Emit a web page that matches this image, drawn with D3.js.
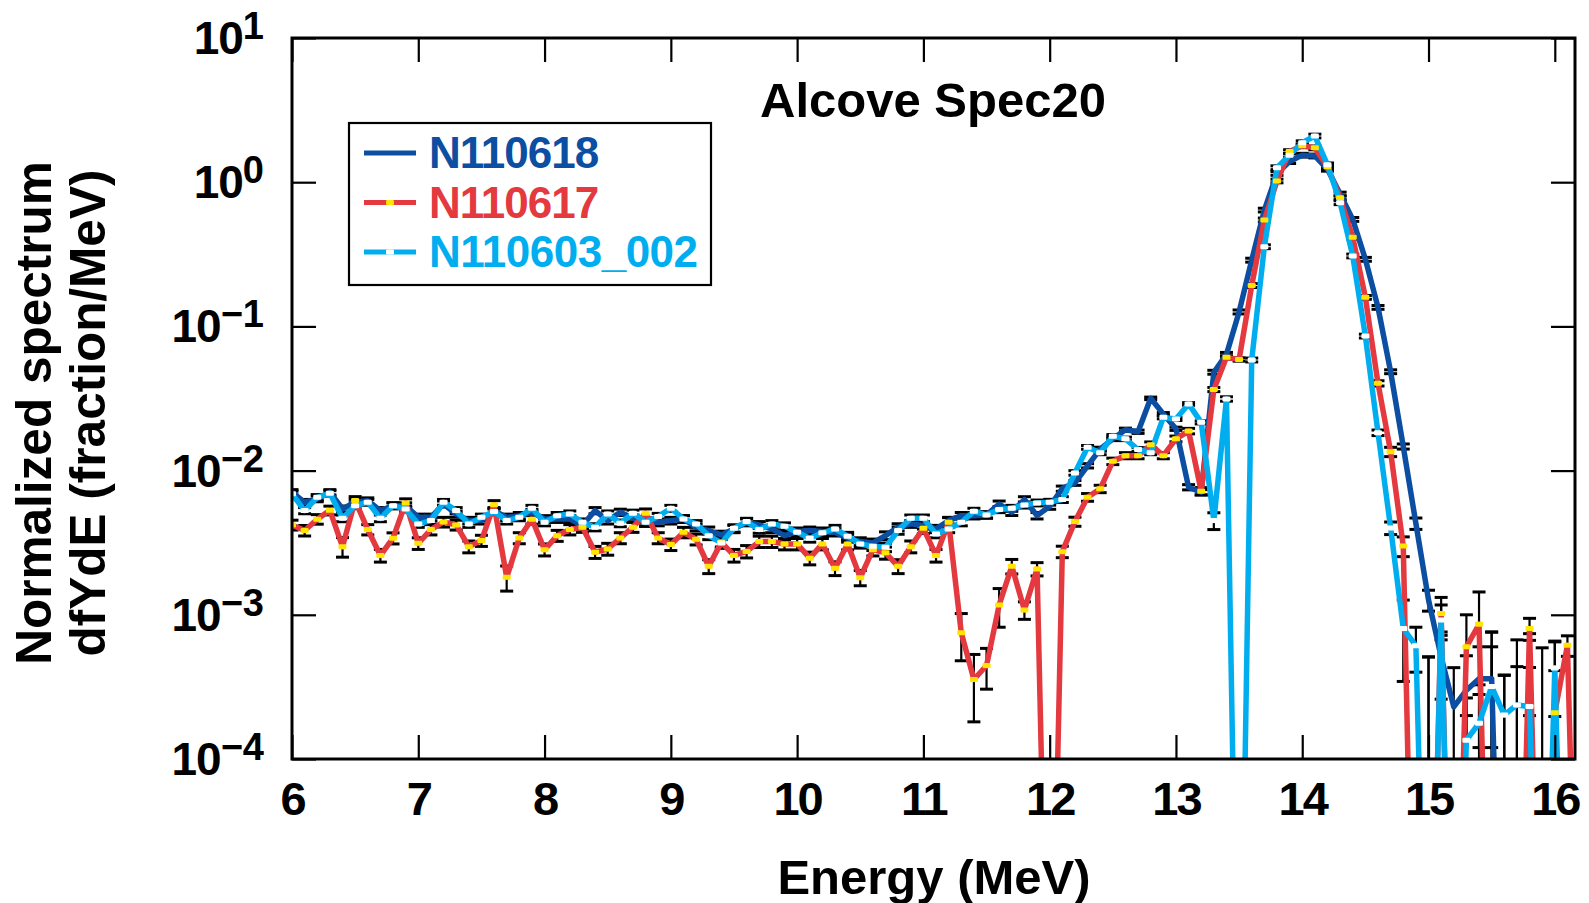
<!DOCTYPE html>
<html>
<head>
<meta charset="utf-8">
<script src="https://cdn.jsdelivr.net/npm/d3@7"></script>
<style>
  body { margin: 0; background: #fff; }
  svg { display: block; font-family: "Liberation Sans", Arial, Helvetica, sans-serif; font-weight: bold; }
</style>
</head>
<body>
<svg id="chart" width="1589" height="903"></svg>
<script>
// Energy bins (MeV)
const energy = [
  6.0, 6.1, 6.2, 6.3, 6.4, 6.5, 6.6, 6.7, 6.8, 6.9,
  7.0, 7.1, 7.2, 7.3, 7.4, 7.5, 7.6, 7.7, 7.8, 7.9,
  8.0, 8.1, 8.2, 8.3, 8.4, 8.5, 8.6, 8.7, 8.8, 8.9,
  9.0, 9.1, 9.2, 9.3, 9.4, 9.5, 9.6, 9.7, 9.8, 9.9,
  10.0, 10.1, 10.2, 10.3, 10.4, 10.5, 10.6, 10.7, 10.8, 10.9,
  11.0, 11.1, 11.2, 11.3, 11.4, 11.5, 11.6, 11.7, 11.8, 11.9,
  12.0, 12.1, 12.2, 12.3, 12.4, 12.5, 12.6, 12.7, 12.8, 12.9,
  13.0, 13.1, 13.2, 13.3, 13.4, 13.5, 13.6, 13.7, 13.8, 13.9,
  14.0, 14.1, 14.2, 14.3, 14.4, 14.5, 14.6, 14.7, 14.8, 14.9,
  15.0, 15.1, 15.2, 15.3, 15.4, 15.5, 15.6, 15.7, 15.8, 15.9,
  16.0, 16.1, 16.2
];

// N110618 (dark blue)
const n110618 = [
  7.08e-3, 6.03e-3, 6.37e-3, 7.08e-3, 5.42e-3, 6.03e-3, 6.19e-3, 5.28e-3, 5.71e-3, 5.71e-3,
  4.74e-3, 4.74e-3, 5.87e-3, 5.0e-3, 4.5e-3, 4.5e-3, 5.28e-3, 4.74e-3, 4.87e-3, 5.13e-3,
  4.62e-3, 4.62e-3, 4.62e-3, 4.16e-3, 5.28e-3, 4.5e-3, 5.14e-3, 4.67e-3, 4.34e-3, 4.38e-3,
  4.5e-3, 4.62e-3, 4.05e-3, 3.84e-3, 3.58e-3, 3.94e-3, 4.38e-3, 4.2e-3, 3.94e-3, 3.54e-3,
  3.78e-3, 3.84e-3, 3.78e-3, 3.74e-3, 3.4e-3, 3.22e-3, 3.15e-3, 3.54e-3, 4.05e-3, 4.27e-3,
  4.16e-3, 3.94e-3, 4.5e-3, 4.87e-3, 4.87e-3, 4.93e-3, 5.87e-3, 5.14e-3, 6.3e-3, 4.87e-3,
  5.66e-3, 7.5e-3, 8.22e-3, 1.08e-2, 1.41e-2, 1.66e-2, 1.92e-2, 1.86e-2, 3.17e-2, 2.47e-2,
  1.95e-2, 7.67e-3, 7.08e-3, 4.81e-2, 6.4e-2, 0.126, 0.288, 0.641, 1.15, 1.39,
  1.54, 1.52, 1.23, 0.828, 0.552, 0.292, 0.1355, 4.85e-2, 1.47e-2, 4.3e-3,
  1.27e-3, 5.1e-4, 2.3e-4, 3.0e-4, 3.6e-4, 3.6e-4, 3e-7, 3e-7, 4.7e-4, 3e-7,
  2.1e-4, 3e-7, 3e-7
];
const errN110618 = [
  3.0e-4, 2.8e-4, 2.9e-4, 3.0e-4, 2.6e-4, 2.8e-4, 2.8e-4, 2.6e-4, 2.7e-4, 2.7e-4,
  2.5e-4, 2.5e-4, 2.8e-4, 2.5e-4, 2.4e-4, 2.4e-4, 2.6e-4, 2.5e-4, 2.5e-4, 2.6e-4,
  2.5e-4, 2.5e-4, 2.5e-4, 2.3e-4, 2.6e-4, 2.4e-4, 2.6e-4, 2.5e-4, 2.4e-4, 2.4e-4,
  2.4e-4, 2.5e-4, 2.3e-4, 2.2e-4, 2.2e-4, 2.3e-4, 2.4e-4, 2.3e-4, 2.3e-4, 2.2e-4,
  2.2e-4, 2.2e-4, 2.2e-4, 2.2e-4, 2.1e-4, 2.0e-4, 2.0e-4, 2.2e-4, 2.3e-4, 2.3e-4,
  2.3e-4, 2.3e-4, 2.4e-4, 2.5e-4, 2.5e-4, 2.5e-4, 2.8e-4, 2.6e-4, 2.9e-4, 2.5e-4,
  2.7e-4, 3.1e-4, 3.2e-4, 3.7e-4, 4.3e-4, 4.6e-4, 5.0e-4, 4.9e-4, 6.4e-4, 5.6e-4,
  5.0e-4, 3.2e-4, 3.0e-4, 1.5e-3, 2.0e-3, 4.0e-3, 9.0e-3, 0.019, 0.034, 0.042,
  0.046, 0.046, 0.037, 0.025, 0.017, 9.0e-3, 4.1e-3, 1.5e-3, 6.0e-4, 3.9e-4,
  2.1e-4, 2.5e-4, 2.0e-4, 2.2e-4, 2.4e-4, 2.4e-4, 3.8e-4, 0, 2.7e-4, 0,
  2.0e-4, 0, 0
];

// N110617 (red)
const n110617 = [
  4.2e-3, 3.84e-3, 4.6e-3, 5.3e-3, 2.97e-3, 6.2e-3, 3.9e-3, 2.58e-3, 3.4e-3, 5.97e-3,
  3.13e-3, 3.9e-3, 4.4e-3, 4.2e-3, 2.97e-3, 3.27e-3, 5.8e-3, 1.82e-3, 3.41e-3, 4.6e-3,
  2.83e-3, 3.54e-3, 3.9e-3, 4.05e-3, 2.72e-3, 2.86e-3, 3.41e-3, 4.05e-3, 5.06e-3, 3.41e-3,
  3.07e-3, 3.73e-3, 3.34e-3, 2.17e-3, 3.18e-3, 2.58e-3, 2.75e-3, 3.22e-3, 3.22e-3, 3.1e-3,
  3.1e-3, 2.47e-3, 3.1e-3, 2.1e-3, 3.1e-3, 1.81e-3, 2.83e-3, 2.69e-3, 2.17e-3, 2.97e-3,
  3.98e-3, 2.58e-3, 4.38e-3, 7.5e-4, 3.56e-4, 4.45e-4, 1.17e-3, 2.17e-3, 1.08e-3, 2.08e-3,
  3e-7, 2.74e-3, 4.43e-3, 6.53e-3, 7.47e-3, 1.16e-2, 1.27e-2, 1.27e-2, 1.51e-2, 1.27e-2,
  1.66e-2, 1.88e-2, 7.2e-3, 3.65e-2, 6.1e-2, 5.9e-2, 0.192, 0.547, 1.02, 1.63,
  1.79, 1.73, 1.28, 0.781, 0.415, 0.159, 4.03e-2, 1.35e-2, 3.0e-3, 3e-7,
  3e-7, 1.02e-3, 3e-7, 6.0e-4, 8.6e-4, 3e-7, 3e-7, 3e-7, 8.05e-4, 3e-7,
  2.09e-4, 6.15e-4, 3e-7
];
const errN110617 = [
  3.3e-4, 3.2e-4, 3.5e-4, 3.7e-4, 4.6e-4, 4.0e-4, 3.2e-4, 2.6e-4, 3.0e-4, 4.0e-4,
  2.9e-4, 3.2e-4, 3.4e-4, 3.3e-4, 2.8e-4, 2.9e-4, 3.9e-4, 3.6e-4, 3.0e-4, 3.5e-4,
  2.7e-4, 3.1e-4, 3.2e-4, 3.2e-4, 2.6e-4, 2.7e-4, 3.0e-4, 3.2e-4, 3.6e-4, 3.0e-4,
  2.8e-4, 3.1e-4, 2.9e-4, 2.4e-4, 2.9e-4, 2.6e-4, 2.7e-4, 2.9e-4, 2.9e-4, 2.8e-4,
  2.8e-4, 2.5e-4, 2.8e-4, 2.3e-4, 2.8e-4, 2.2e-4, 2.7e-4, 2.6e-4, 2.4e-4, 2.8e-4,
  3.2e-4, 2.6e-4, 3.4e-4, 2.7e-4, 1.75e-4, 1.4e-4, 3.5e-4, 2.5e-4, 1.5e-4, 2.2e-4,
  0, 2.5e-4, 3.2e-4, 4.0e-4, 4.4e-4, 6.0e-4, 6.2e-4, 6.2e-4, 7.0e-4, 6.2e-4,
  7.6e-4, 8.2e-4, 4.2e-4, 1.2e-3, 1.6e-3, 1.6e-3, 6.0e-3, 0.017, 0.03, 0.049,
  0.054, 0.052, 0.038, 0.023, 0.012, 4.8e-3, 1.7e-3, 1.0e-3, 4.7e-4, 0,
  5.1e-4, 3.0e-4, 0, 4.0e-4, 5.8e-4, 7.6e-4, 0, 6.7e-4, 1.4e-4, 0,
  4.4e-4, 1.0e-4, 0
];

// N110603_002 (cyan)
const n110603 = [
  6.9e-3, 5.28e-3, 6.53e-3, 6.96e-3, 4.67e-3, 5.71e-3, 6.03e-3, 4.67e-3, 5.71e-3, 5.42e-3,
  4.27e-3, 4.5e-3, 6.03e-3, 5.28e-3, 4.27e-3, 4.74e-3, 5.2e-3, 4.5e-3, 4.74e-3, 5.48e-3,
  4.38e-3, 4.87e-3, 5.0e-3, 4.38e-3, 4.05e-3, 5.0e-3, 4.31e-3, 5.06e-3, 4.38e-3, 4.8e-3,
  5.48e-3, 4.62e-3, 4.27e-3, 3.54e-3, 3.15e-3, 3.98e-3, 4.43e-3, 3.9e-3, 4.27e-3, 4.11e-3,
  3.74e-3, 3.4e-3, 3.7e-3, 3.94e-3, 3.51e-3, 3.1e-3, 2.99e-3, 2.94e-3, 3.84e-3, 4.67e-3,
  4.67e-3, 3.64e-3, 3.94e-3, 4.38e-3, 5.22e-3, 4.93e-3, 5.37e-3, 5.48e-3, 5.78e-3, 5.97e-3,
  6.04e-3, 6.3e-3, 9.64e-3, 1.45e-2, 1.33e-2, 1.73e-2, 1.66e-2, 1.4e-2, 1.33e-2, 2.34e-2,
  2.28e-2, 2.9e-2, 2.16e-2, 4.5e-3, 3.14e-2, 3e-7, 5.85e-2, 0.357, 1.26, 1.54,
  1.88, 2.09, 1.32, 0.721, 0.308, 8.57e-2, 1.83e-2, 4.0e-3, 8.05e-4, 6.1e-4,
  3e-7, 9.2e-4, 3e-7, 1.35e-4, 1.77e-4, 3.18e-4, 2.02e-4, 2.37e-4, 2.31e-4, 3e-7,
  4.27e-4, 3e-7, 3e-7
];
const errN110603 = [
  3.0e-4, 2.6e-4, 2.9e-4, 3.0e-4, 2.5e-4, 2.7e-4, 2.8e-4, 2.5e-4, 2.7e-4, 2.6e-4,
  2.3e-4, 2.4e-4, 2.8e-4, 2.6e-4, 2.3e-4, 2.5e-4, 2.6e-4, 2.4e-4, 2.5e-4, 2.6e-4,
  2.4e-4, 2.5e-4, 2.5e-4, 2.4e-4, 2.3e-4, 2.5e-4, 2.3e-4, 2.6e-4, 2.4e-4, 2.5e-4,
  2.6e-4, 2.5e-4, 2.3e-4, 2.2e-4, 2.0e-4, 2.3e-4, 2.4e-4, 2.2e-4, 2.3e-4, 2.3e-4,
  2.2e-4, 2.1e-4, 2.2e-4, 2.3e-4, 2.2e-4, 2.0e-4, 2.0e-4, 2.0e-4, 2.2e-4, 2.5e-4,
  2.5e-4, 2.2e-4, 2.3e-4, 2.4e-4, 2.6e-4, 2.5e-4, 2.6e-4, 2.6e-4, 2.8e-4, 2.8e-4,
  2.8e-4, 2.9e-4, 3.5e-4, 4.3e-4, 4.1e-4, 4.7e-4, 4.6e-4, 4.3e-4, 4.1e-4, 5.5e-4,
  5.5e-4, 6.0e-4, 5.3e-4, 6.0e-4, 1.1e-3, 0, 1.8e-3, 0.011, 0.038, 0.046,
  0.056, 0.063, 0.04, 0.022, 9.2e-3, 2.6e-3, 8.1e-4, 4.0e-4, 4.6e-4, 2.1e-4,
  5.1e-4, 2.5e-4, 0, 1.3e-4, 1.5e-4, 4.4e-4, 1.8e-4, 2.0e-4, 2.0e-4, 5.9e-4,
  2.3e-4, 0, 0
];

const seriesNames = ["N110618", "N110617", "N110603_002"];
const xTicks = [6, 7, 8, 9, 10, 11, 12, 13, 14, 15, 16];
const yTicks = [1e-4, 1e-3, 1e-2, 1e-1, 1, 10];
const yTickExponents = ["\u22124", "\u22123", "\u22122", "\u22121", "0", "1"];

// Layout
const svg = d3.select("#chart"),
    margin = { top: 38, right: 14, bottom: 144, left: 292 },
    width = +svg.attr("width") - margin.left - margin.right,
    height = +svg.attr("height") - margin.top - margin.bottom;

const g = svg.append("g").attr("transform", `translate(${margin.left},${margin.top})`);

const x = d3.scaleLinear().domain([6, 16.16]).range([0, width]);
const y = d3.scaleLog().domain([1e-4, 10]).range([height, 0]);

const series = [
  { name: seriesNames[0], values: n110618, errors: errN110618, color: "#0b4ea2", marker: null },
  { name: seriesNames[1], values: n110617, errors: errN110617, color: "#e3393f", marker: "#ffe500" },
  { name: seriesNames[2], values: n110603, errors: errN110603, color: "#00aeef", marker: "#ffffff" }
];

// Clip data to the plot frame
svg.append("defs").append("clipPath").attr("id", "plot-clip")
  .append("rect").attr("width", width).attr("height", height);

const plot = g.append("g").attr("clip-path", "url(#plot-clip)");

const line = d3.line()
  .x((d, i) => x(energy[i]))
  .y(d => y(d));

const capW = 6.5;

// Error bars first, underneath every trace
const eb = plot.append("g").attr("stroke", "#000").attr("stroke-width", 2.2);
series.forEach(s => {
  s.values.forEach((v, i) => {
    const err = s.errors[i];
    if (!(err > 0)) return;
    const hi = v + err;
    const lo = v - err > 0 ? v - err : 1e-6;
    const cx = x(energy[i]);
    eb.append("line").attr("x1", cx).attr("x2", cx).attr("y1", y(lo)).attr("y2", y(hi));
    eb.append("line").attr("x1", cx - capW).attr("x2", cx + capW).attr("y1", y(hi)).attr("y2", y(hi)).attr("stroke-width", 3);
    eb.append("line").attr("x1", cx - capW).attr("x2", cx + capW).attr("y1", y(lo)).attr("y2", y(lo)).attr("stroke-width", 3);
  });
});

// Lines
series.forEach(s => {
  plot.append("path")
    .datum(s.values)
    .attr("fill", "none")
    .attr("stroke", s.color)
    .attr("stroke-width", 5.5)
    .attr("stroke-linejoin", "round")
    .attr("d", line);
});

// Point markers
series.filter(s => s.marker).forEach(s => {
  plot.append("g").selectAll("rect")
    .data(s.values.map((v, i) => ({ e: energy[i], v: v })).filter(d => d.v > 1e-4))
    .enter().append("rect")
    .attr("x", d => x(d.e) - 4)
    .attr("y", d => y(d.v) - 2.5)
    .attr("width", 8)
    .attr("height", 5)
    .attr("rx", 1.2)
    .attr("fill", s.marker);
});

// Axes (ticks pointing inward on all four sides)
const axisStyle = sel => {
  sel.select(".domain").remove();
  sel.selectAll(".tick line").attr("stroke", "#000").attr("stroke-width", 2.2);
};

g.append("g")
  .attr("transform", `translate(0,${height})`)
  .call(d3.axisBottom(x).tickValues(xTicks).tickSize(-24).tickPadding(23).tickFormat(d3.format("d")))
  .call(axisStyle)
  .call(a => a.selectAll("text")
    .attr("fill", "#000")
    .style("font-size", "47px")
    .style("font-weight", "bold")
    .style("font-family", "'Liberation Sans', Arial, sans-serif")
    .attr("letter-spacing", -2));

g.append("g")
  .call(d3.axisTop(x).tickValues(xTicks).tickSize(-24).tickFormat(""))
  .call(axisStyle);

g.append("g")
  .call(d3.axisLeft(y).tickValues(yTicks).tickSize(-24).tickFormat(""))
  .call(axisStyle);

g.append("g")
  .attr("transform", `translate(${width},0)`)
  .call(d3.axisRight(y).tickValues(yTicks).tickSize(-24).tickFormat(""))
  .call(axisStyle);

// Y tick labels as powers of ten
yTicks.forEach((v, i) => {
  const t = g.append("text")
    .attr("x", -28)
    .attr("y", y(v) + 16)
    .attr("text-anchor", "end")
    .attr("fill", "#000")
    .style("font-size", "46px");
  t.append("tspan").attr("letter-spacing", -1).text("10");
  t.append("tspan")
    .attr("dy", -15)
    .style("font-size", "38px")
    .text(yTickExponents[i]);
});

// Frame
g.append("rect")
  .attr("width", width)
  .attr("height", height)
  .attr("fill", "none")
  .attr("stroke", "#000")
  .attr("stroke-width", 3);

// Title
g.append("text")
  .attr("x", 641)
  .attr("y", 79)
  .attr("text-anchor", "middle")
  .style("font-size", "49px")
  .text("Alcove Spec20");

// Axis labels
svg.append("text")
  .attr("x", 934)
  .attr("y", 894)
  .attr("text-anchor", "middle")
  .style("font-size", "49px")
  .text("Energy (MeV)");

svg.append("text")
  .attr("transform", "translate(51,413) rotate(-90)")
  .attr("text-anchor", "middle")
  .style("font-size", "49.5px")
  .text("Normalized spectrum");

svg.append("text")
  .attr("transform", "translate(105,413) rotate(-90)")
  .attr("text-anchor", "middle")
  .style("font-size", "49.5px")
  .text("dfYdE (fraction/MeV)");

// Legend
const legend = svg.append("g").attr("transform", "translate(349,123)");
legend.append("rect")
  .attr("width", 362)
  .attr("height", 162)
  .attr("fill", "#fff")
  .attr("stroke", "#000")
  .attr("stroke-width", 2.2);

series.forEach((s, i) => {
  const ly = 30 + i * 49.5;
  const row = legend.append("g").attr("transform", `translate(0,${ly})`);
  row.append("line")
    .attr("x1", 15).attr("x2", 67)
    .attr("stroke", s.color)
    .attr("stroke-width", 5);
  if (s.marker) {
    row.append("rect")
      .attr("x", 37).attr("y", -2.5)
      .attr("width", 8).attr("height", 5)
      .attr("rx", 1.2)
      .attr("fill", s.marker);
  }
  row.append("text")
    .attr("x", 80)
    .attr("y", 15)
    .attr("fill", s.color)
    .attr("letter-spacing", i === 2 ? -0.5 : -1)
    .style("font-size", "44px")
    .text(s.name);
});
</script>
</body>
</html>
